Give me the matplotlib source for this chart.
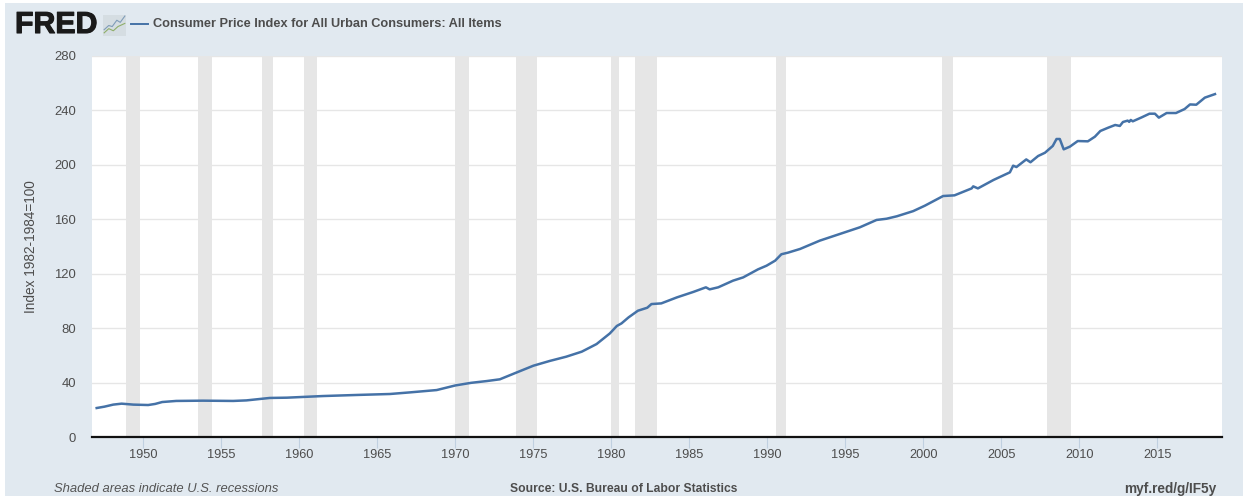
import matplotlib
matplotlib.use("Agg")
import matplotlib.pyplot as plt
import matplotlib.patheffects as pe
from matplotlib.patches import Rectangle

W, H = 1243, 496

years = [1947.0, 1947.5, 1948.06, 1948.6, 1949.35, 1950.3, 1950.75, 1951.2, 1952.1, 1953.8, 1955.75, 1956.6,
         1958.1, 1959.2, 1961.5, 1963.7, 1965.8, 1967.1, 1967.9, 1968.8, 1970.0, 1971.0, 1972.0, 1972.85,
         1973.9, 1975.0, 1976.05, 1977.1, 1978.1, 1979.05, 1979.9, 1980.35, 1980.65, 1981.1, 1981.7, 1982.3,
         1982.57, 1983.2, 1984.2, 1985.25, 1986.06, 1986.3, 1986.85, 1987.8, 1988.45, 1989.4, 1989.95, 1990.5,
         1990.9, 1991.33, 1992.1, 1993.36, 1995.93, 1997.0, 1997.64, 1998.3, 1999.35, 2000.1, 2001.27, 2002.0,
         2003.1, 2003.2, 2003.5, 2004.5, 2005.55, 2005.76, 2005.97, 2006.6, 2006.87, 2007.36, 2007.8, 2008.3,
         2008.54, 2008.75, 2009.0, 2009.4, 2009.9, 2010.55, 2011.0, 2011.35, 2011.85, 2012.3, 2012.6, 2012.8,
         2013.1, 2013.2, 2013.3, 2013.43, 2014.0, 2014.5, 2014.85, 2015.1, 2015.6, 2016.2, 2016.75, 2017.1,
         2017.5, 2018.05, 2018.7]
cpi = [21.3, 22.3, 23.8, 24.5, 23.8, 23.5, 24.3, 25.7, 26.5, 26.7, 26.5, 26.9,
       28.7, 28.9, 30.1, 30.9, 31.6, 32.8, 33.6, 34.5, 37.9, 39.8, 41.1, 42.4,
       47.3, 52.4, 55.9, 59.0, 62.7, 68.3, 76.1, 81.6, 83.5, 87.9, 92.8, 95.0,
       97.7, 98.2, 102.6, 106.6, 110.0, 108.5, 110.0, 114.9, 117.3, 123.2, 125.9, 129.6,
       134.3, 135.5, 138.2, 144.3, 154.1, 159.5, 160.4, 162.2, 166.0, 170.0, 177.1, 177.6,
       182.7, 184.2, 182.7, 188.9, 194.5, 199.4, 198.4, 204.0, 201.9, 206.5, 208.9, 213.9,
       219.0, 219.0, 211.4, 213.4, 217.5, 217.3, 220.7, 224.9, 227.3, 229.3, 228.6, 231.5,
       232.5, 231.6, 233.0, 232.0, 234.9, 237.6, 237.6, 234.7, 238.1, 238.1, 241.0, 244.4,
       244.2, 249.4, 252.0]

rec_start = [1948.9, 1953.5, 1957.6, 1960.3, 1969.95, 1973.9, 1980.0, 1981.5, 1990.55, 2001.2, 2007.95]
rec_end = [1949.8, 1954.4, 1958.3, 1961.1, 1970.9, 1975.2, 1980.5, 1982.9, 1991.2, 2001.9, 2009.45]

x_ticks = list(range(1950, 2016, 5))
y_ticks = list(range(0, 281, 40))

icon_blue = [0.05, 0.25, 0.4, 0.6, 0.75, 0.95]
icon_blue_y = [0.3, 0.5, 0.45, 0.75, 0.65, 0.95]
icon_green = [0.05, 0.25, 0.45, 0.65, 0.95]
icon_green_y = [0.15, 0.35, 0.25, 0.45, 0.6]

BG = "#e1e9f0"
LINE = "#4572a7"
TXT = "#4d4d4d"

plt.rcParams["font.family"] = ["Liberation Sans", "DejaVu Sans"]

fig = plt.figure(figsize=(W / 100, H / 100), dpi=100, facecolor="white")
fig.add_artist(Rectangle((5 / W, 0), 1, 1 - 3 / H, transform=fig.transFigure, color=BG, lw=0, zorder=-10))

ax = fig.add_axes([92 / W, 1 - 437 / H, (1222 - 92) / W, (437 - 56) / H])
ax.set_facecolor("white")
ax.set_xlim(1946.7, 2019.15)
ax.set_ylim(0, 280)

for s, e in zip(rec_start, rec_end):
    ax.axvspan(s, e, color="#e6e6e6", lw=0, zorder=2)
ax.set_axisbelow(True)
ax.grid(axis="y", color="#e6e6e6", lw=1, zorder=1)
ax.plot(years, cpi, color=LINE, lw=1.8, zorder=3, solid_joinstyle="round")

for side in ["top", "right", "left"]:
    ax.spines[side].set_visible(False)
ax.spines["bottom"].set_color("#111111")
ax.spines["bottom"].set_linewidth(1.6)
ax.spines["bottom"].set_zorder(4)

ax.set_xticks(x_ticks)
ax.set_yticks(y_ticks)
ax.tick_params(axis="x", length=8, width=0.8, color="#c0d0e0", labelsize=9.2, labelcolor=TXT, pad=1)
ax.tick_params(axis="y", length=0, labelsize=9.4, labelcolor=TXT, pad=11.5)
ax.set_ylabel("Index 1982-1984=100", fontsize=9.8, color=TXT, va="center")
ax.yaxis.set_label_coords((31 - 92) / (1222 - 92), 0.5)

# header
fig.text(15 / W, 1 - 25 / H, "FRED", fontsize=21.8, fontweight="bold", color="#1a1a1a", va="center", ha="left",
         path_effects=[pe.withStroke(linewidth=0.8, foreground="#1a1a1a")])
icon = fig.add_axes([103 / W, 1 - 36 / H, 23 / W, 21 / H])
icon.add_patch(Rectangle((0, 0), 1, 1, color="#d5dde2", zorder=0, lw=0))
icon.plot(icon_blue, icon_blue_y, color="#7f9cb8", lw=0.8)
icon.plot(icon_green, icon_green_y, color="#8fae6a", lw=0.8)
icon.set_xlim(0, 1)
icon.set_ylim(0, 1)
icon.axis("off")

fig.add_artist(plt.Line2D([131 / W, 148 / W], [1 - 24 / H, 1 - 24 / H], color=LINE, lw=1.4))
fig.text(153 / W, 1 - 24 / H, "Consumer Price Index for All Urban Consumers: All Items",
         fontsize=9.2, fontweight="bold", color="#4d4d4d", va="center", ha="left")

# footer
fig.text(54 / W, 1 - 488.5 / H, "Shaded areas indicate U.S. recessions", fontsize=9.4, style="italic",
         color="#555555", va="center", ha="left")
fig.text(624 / W, 1 - 488.5 / H, "Source: U.S. Bureau of Labor Statistics", fontsize=8.7, fontweight="bold",
         color="#4d4d4d", va="center", ha="center")
fig.text(1216 / W, 1 - 488.5 / H, "myf.red/g/IF5y", fontsize=9.8, fontweight="bold",
         color="#4d4d4d", va="center", ha="right")

fig.savefig("out.png", dpi=100, facecolor=fig.get_facecolor())
